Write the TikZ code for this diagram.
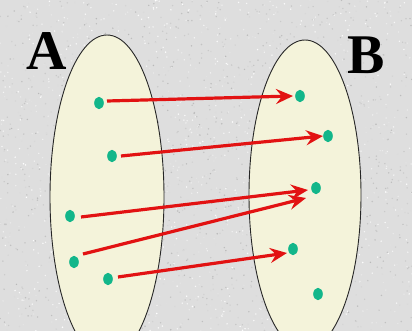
\documentclass[tikz,border=0pt]{standalone}
\usepackage{fontspec}
\setmainfont{Liberation Serif}
\usetikzlibrary{arrows.meta,calc}
\definecolor{bggray}{RGB}{222,222,222}
\definecolor{setfill}{RGB}{244,243,218}
\definecolor{dotcol}{RGB}{18,182,138}
\definecolor{arrred}{RGB}{226,18,18}
\tikzset{
  setshape/.style={draw=black!85,line width=0.9pt,fill=setfill},
  elemdot/.style={fill=dotcol},
  maparrow/.style={draw=arrred,line width=3.2pt,-{Stealth[length=17pt,width=15pt,inset=6pt]}},
  setlabel/.style={font=\fontsize{56}{56}\selectfont\bfseries,text=black,inner sep=0pt}
}
\begin{document}
\begin{tikzpicture}[x=1pt,y=-1pt]
\useasboundingbox (0,0) rectangle (412,331);
\fill[bggray] (0,0) rectangle (412,331);
\pgfmathsetseed{7}
\foreach \i in {1,...,2600}{
  \pgfmathsetmacro{\px}{rnd*412}
  \pgfmathsetmacro{\py}{rnd*331}
  \pgfmathsetmacro{\sh}{45+rnd*55}
  \fill[white!\sh!gray] (\px,\py) circle (0.8pt);
}
\begin{scope}
\clip (0,0) rectangle (412,331);
\draw[setshape] (107,197) ellipse (57pt and 162pt);
\draw[setshape] (305,195) ellipse (56pt and 155pt);
\end{scope}
\node[setlabel] (A) at (47,51) {A};
\node[setlabel] (B) at (366,55) {B};
\coordinate (l1) at (99,103);
\coordinate (l2) at (112,156);
\coordinate (l3) at (70,216);
\coordinate (l4) at (74,262);
\coordinate (l5) at (108,279);
\coordinate (r1) at (300,96);
\coordinate (r2) at (328,136);
\coordinate (r3) at (316,188);
\coordinate (r4) at (293,249);
\coordinate (r5) at (318,294);
\foreach \d in {l1,l2,l3,l4,l5,r1,r2,r3,r4,r5}{
  \fill[elemdot] (\d) ellipse (4.8pt and 6.2pt);
}
\draw[maparrow] ([shift={(8,-2)}]l1) -- ([shift={(-7,0)}]r1);
\draw[maparrow] ([shift={(9,0)}]l2) -- ([shift={(-5,0)}]r2);
\draw[maparrow] ([shift={(11,1)}]l3) -- ([shift={(-8,2)}]r3);
\draw[maparrow] ([shift={(9,-8)}]l4) -- ([shift={(-10,10)}]r3);
\draw[maparrow] ([shift={(10,-2)}]l5) -- ([shift={(-6,4)}]r4);
\end{tikzpicture}
\end{document}
